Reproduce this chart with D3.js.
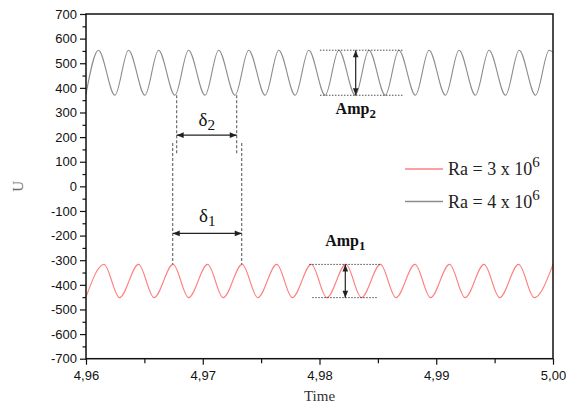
<!DOCTYPE html>
<html><head><meta charset="utf-8">
<script src="https://cdnjs.cloudflare.com/ajax/libs/d3/7.8.5/d3.min.js"></script>
<style>body{margin:0;background:#fff;}svg{display:block;}</style>
</head><body><svg id="c" width="566" height="411"></svg>
<script>
// Series Ra = 4 x 10^6 (grey): extremum times and values
const blackT = [4.96, 4.96106, 4.96248, 4.96364, 4.96505, 4.96621, 4.96762, 4.96878, 4.97020, 4.97136, 4.97277, 4.97393, 4.97535, 4.97651, 4.97792, 4.97908, 4.98049, 4.98165, 4.98307, 4.98423, 4.98564, 4.98680, 4.98822, 4.98938, 4.99079, 4.99195, 4.99336, 4.99452, 4.99594, 4.99710, 4.99851, 4.99967, 5.00];
const blackU = [374, 553, 370, 553, 370, 553, 370, 553, 370, 553, 370, 553, 370, 553, 370, 553, 370, 553, 370, 553, 370, 553, 370, 553, 370, 553, 370, 553, 370, 553, 370, 553, 545];
// Series Ra = 3 x 10^6 (red)
const redT = [4.96, 4.96154, 4.96287, 4.96450, 4.96583, 4.96746, 4.96879, 4.97042, 4.97175, 4.97338, 4.97471, 4.97634, 4.97767, 4.97930, 4.98063, 4.98226, 4.98359, 4.98522, 4.98655, 4.98818, 4.98951, 4.99114, 4.99247, 4.99410, 4.99543, 4.99706, 4.99839, 5.00];
const redU = [-450, -317, -452, -317, -452, -317, -452, -317, -452, -317, -452, -317, -452, -317, -452, -317, -452, -317, -452, -317, -452, -317, -452, -317, -452, -317, -452, -317];

const xTicks = [4.96, 4.97, 4.98, 4.99, 5.00];
const xTickLabels = ["4,96", "4,97", "4,98", "4,99", "5,00"];
const yTicks = [700, 600, 500, 400, 300, 200, 100, 0, -100, -200, -300, -400, -500, -600, -700];
const legendLabels = ["Ra = 3 x 10", "Ra = 4 x 10"];
const legendExp = ["6", "6"];

// annotation anchors (data units)
const delta2X = [4.96777, 4.97291];
const delta1X = [4.96743, 4.97334];
const amp2Lines = [4.98004, 4.98718];
const amp2ArrowX = 4.98310;
const amp1TopLine = [4.97913, 4.98518];
const amp1BotLine = [4.97938, 4.98490];
const amp1ArrowX = 4.98221;

const W = 566, H = 411;
const m = {l: 86, r: 13, t: 14, b: 52.3};
const svg = d3.select("#c");
const x = d3.scaleLinear().domain([4.96, 5.00]).range([m.l, W - m.r]);
const y = d3.scaleLinear().domain([-700, 700]).range([H - m.b, m.t]);

const defs = svg.append("defs");
function marker(id, orient) {
  defs.append("marker").attr("id", id).attr("viewBox", "0 0 10 10").attr("refX", 10).attr("refY", 5)
    .attr("markerWidth", 9).attr("markerHeight", 7).attr("markerUnits", "userSpaceOnUse").attr("orient", orient)
    .append("path").attr("d", "M0,1 L10,5 L0,9 Z").attr("fill", "#222");
}
marker("ah", "auto");
marker("as", "auto-start-reverse");

// curves
const line = d3.line().x(d => x(d[0])).y(d => y(d[1])).curve(d3.curveMonotoneX);
svg.append("path").datum(redT.map((t, i) => [t, redU[i]])).attr("d", line)
  .attr("fill", "none").attr("stroke", "#ff7f7f").attr("stroke-width", 1.1);
svg.append("path").datum(blackT.map((t, i) => [t, blackU[i]])).attr("d", line)
  .attr("fill", "none").attr("stroke", "#8c8c8c").attr("stroke-width", 1.1);

// axes
const yMinor = d3.range(-650, 700, 100);
const xMinor = [4.965, 4.975, 4.985, 4.995];
const gy = svg.append("g").attr("transform", `translate(${m.l},0)`);
gy.call(d3.axisLeft(y).tickValues(yTicks).tickSize(6).tickPadding(3).tickFormat(d => String(d)));
gy.append("g").call(d3.axisLeft(y).tickValues(yMinor).tickSize(3.5).tickFormat(""));
const gx = svg.append("g").attr("transform", `translate(0,${H - m.b})`);
gx.call(d3.axisBottom(x).tickValues(xTicks).tickSize(6).tickPadding(6).tickFormat((d, i) => xTickLabels[i]));
gx.append("g").call(d3.axisBottom(x).tickValues(xMinor).tickSize(4.5).tickFormat(""));
svg.selectAll(".domain").remove();
svg.selectAll(".tick line").attr("stroke", "#111").attr("stroke-width", 1.2);
svg.selectAll(".tick text").attr("font-family", "Arial, 'Liberation Sans', sans-serif").attr("font-size", 13).attr("fill", "#111");
// frame
svg.append("rect").attr("x", m.l).attr("y", m.t).attr("width", W - m.r - m.l).attr("height", H - m.b - m.t)
  .attr("fill", "none").attr("stroke", "#111").attr("stroke-width", 1.5);

// axis titles
svg.append("text").attr("x", x(4.98)).attr("y", 401).attr("text-anchor", "middle")
  .attr("font-family", "'Liberation Serif', 'Times New Roman', serif").attr("font-size", 15).attr("fill", "#333").text("Time");
svg.append("text").attr("transform", `translate(23,${y(0)}) rotate(-90)`).attr("text-anchor", "middle")
  .attr("font-family", "'Liberation Serif', 'Times New Roman', serif").attr("font-size", 15).attr("fill", "#6e6e6e").text("U");

// legend
const serif = "'Liberation Serif', 'Times New Roman', serif";
const legColors = ["#ff7f7f", "#8c8c8c"];
const legY = [169, 201.5];
legendLabels.forEach((lab, i) => {
  svg.append("line").attr("x1", 405).attr("x2", 443).attr("y1", legY[i]).attr("y2", legY[i])
    .attr("stroke", legColors[i]).attr("stroke-width", 1.3);
  const t = svg.append("text").attr("x", 448).attr("y", legY[i] + 6).attr("font-family", serif).attr("font-size", 18).attr("fill", "#222");
  t.append("tspan").text(lab);
  t.append("tspan").attr("dy", -8).attr("font-size", 15).text(legendExp[i]);
});

// annotation helpers
function vline(xv, y0, y1, dash) {
  svg.append("line").attr("x1", x(xv)).attr("x2", x(xv)).attr("y1", y(y0)).attr("y2", y(y1))
    .attr("stroke", "#222").attr("stroke-width", 0.8).attr("stroke-dasharray", dash);
}
function hline(x0, x1, yv) {
  svg.append("line").attr("x1", x(x0)).attr("x2", x(x1)).attr("y1", y(yv)).attr("y2", y(yv))
    .attr("stroke", "#222").attr("stroke-width", 0.8).attr("stroke-dasharray", "1.5,1.5");
}
function arrow(x0, y0, x1, y1) {
  svg.append("line").attr("x1", x0).attr("y1", y0).attr("x2", x1).attr("y2", y1)
    .attr("stroke", "#222").attr("stroke-width", 1.2).attr("marker-end", "url(#ah)").attr("marker-start", "url(#as)");
}
function subLabel(cx, by, main, sub, bold, size) {
  const t = svg.append("text").attr("x", cx).attr("y", by).attr("text-anchor", "middle")
    .attr("font-family", serif).attr("font-size", size).attr("font-weight", bold ? "bold" : "normal").attr("fill", "#111");
  t.append("tspan").text(main);
  t.append("tspan").attr("dy", 4).attr("font-size", size * 0.8).text(sub);
}

// delta 2
vline(delta2X[0], 370, 127, "3,2");
vline(delta2X[1], 370, 127, "3,2");
arrow(x(delta2X[0]), y(208), x(delta2X[1]), y(208));
subLabel((x(delta2X[0]) + x(delta2X[1])) / 2, 126, "δ", "2", false, 19);
// delta 1
vline(delta1X[0], 176, -317, "3,2");
vline(delta1X[1], 176, -317, "3,2");
arrow(x(delta1X[0]), y(-191), x(delta1X[1]), y(-191));
subLabel((x(delta1X[0]) + x(delta1X[1])) / 2, 222, "δ", "1", false, 19);
// Amp 2
hline(amp2Lines[0], amp2Lines[1], 553);
hline(amp2Lines[0], amp2Lines[1], 370);
arrow(x(amp2ArrowX), y(553), x(amp2ArrowX), y(370));
subLabel(x(amp2ArrowX), 114, "Amp", "2", true, 16);
// Amp 1
hline(amp1TopLine[0], amp1TopLine[1], -317);
hline(amp1BotLine[0], amp1BotLine[1], -452);
arrow(x(amp1ArrowX), y(-317), x(amp1ArrowX), y(-452));
subLabel(x(amp1ArrowX), 246, "Amp", "1", true, 16);
</script></body></html>
